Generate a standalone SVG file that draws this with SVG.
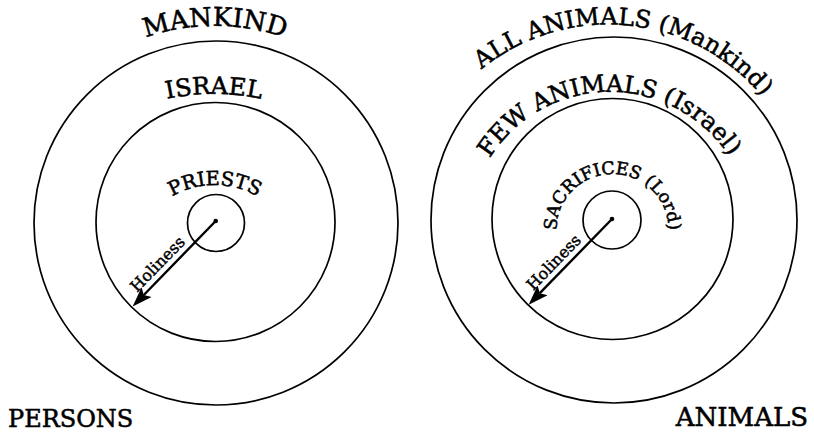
<svg xmlns="http://www.w3.org/2000/svg" width="814" height="434" viewBox="0 0 814 434">
<style>
.ring{fill:none;stroke:#000;stroke-width:1.7}
.shaft{stroke:#000;stroke-width:2.4;fill:none}
.lbl{font-family:"DejaVu Serif","Liberation Serif",serif;fill:#000;stroke:#000;stroke-width:0.55}
.big{font-size:24px}
.huge{font-size:26px}
.mid{font-size:19.5px}
.sac{font-size:17.5px}
.small{font-size:16px;stroke-width:0.45}
</style>
<defs>
<marker id="arrow" viewBox="0 -8 22 16" refX="4" refY="0" markerWidth="22" markerHeight="16" markerUnits="userSpaceOnUse" orient="auto">
<path d="M0,-7 L20,0 L0,7 L4,0 Z" fill="#000"/>
</marker>
<path id="pMankind" d="M 77.4 76.1 A 214 214 0 0 1 352.6 76.1"/>
<path id="pIsrael" d="M 115.5 115.8 A 233 233 0 0 1 312.5 115.8"/>
<path id="pPriests" d="M 141.4 227.5 A 85 85 0 0 1 288.6 227.5"/>
<path id="pAll" d="M 426.7 138.8 A 201 201 0 0 1 802.6 175.3"/>
<path id="pFew" d="M 471.3 203.5 A 142 142 0 0 1 745.4 191.1"/>
<path id="pSac" d="M 557.35 239.72 A 56 56 0 1 1 667.65 239.72"/>
</defs>

<g id="persons-diagram">
<g id="mankind">
<circle class="ring" cx="216" cy="223" r="182"/>
<text class="lbl huge" text-anchor="middle"><textPath href="#pMankind" startOffset="50%">MANKIND</textPath></text>
</g>
<g id="israel">
<circle class="ring" cx="215.5" cy="222" r="119.5"/>
<text class="lbl big" text-anchor="middle"><textPath href="#pIsrael" startOffset="50%">ISRAEL</textPath></text>
</g>
<g id="priests">
<circle class="ring" cx="216" cy="223" r="28.5"/>
<text class="lbl mid" text-anchor="middle"><textPath href="#pPriests" startOffset="50%">PRIESTS</textPath></text>
</g>
<g id="persons">
<text class="lbl big" x="8" y="427">PERSONS</text>
</g>
</g>

<g id="animals-diagram">
<g id="all-animals">
<circle class="ring" cx="614" cy="220" r="183"/>
<text class="lbl big" text-anchor="middle"><textPath href="#pAll" startOffset="50%">ALL ANIMALS (Mankind)</textPath></text>
</g>
<g id="few-animals">
<circle class="ring" cx="612.5" cy="219" r="120.5"/>
<text class="lbl big" text-anchor="middle"><textPath href="#pFew" startOffset="51.5%">FEW ANIMALS (Israel)</textPath></text>
</g>
<g id="sacrifices">
<circle class="ring" cx="612" cy="220" r="29"/>
<text class="lbl sac" text-anchor="middle"><textPath href="#pSac" startOffset="50%">SACRIFICES (Lord)</textPath></text>
</g>
<g id="animals">
<text class="lbl huge" x="808" y="426" text-anchor="end">ANIMALS</text>
</g>
</g>

<g id="connectors">
<circle cx="215.7" cy="221" r="2.3" fill="#000"/>
<line class="shaft" x1="215.7" y1="221" x2="143.8" y2="295" marker-end="url(#arrow)"/>
<text class="lbl small" text-anchor="middle" transform="translate(161.5 268) rotate(-45.7)">Holiness</text>
<circle cx="612" cy="219" r="2.3" fill="#000"/>
<line class="shaft" x1="612" y1="219" x2="539.8" y2="293.2" marker-end="url(#arrow)"/>
<text class="lbl small" text-anchor="middle" transform="translate(557.6 266.1) rotate(-45.7)">Holiness</text>
</g>
</svg>
